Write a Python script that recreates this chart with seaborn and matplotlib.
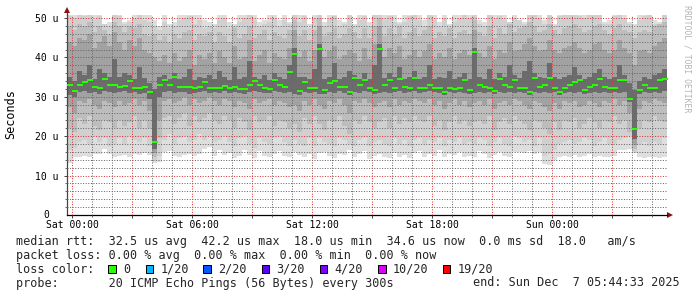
import numpy as np
import pandas as pd
import matplotlib
matplotlib.use("Agg")
import matplotlib.pyplot as plt
from matplotlib.path import Path
from matplotlib.markers import MarkerStyle
from matplotlib.patches import Rectangle
import seaborn as sns

# ---------------- data ----------------
# time axis: hours relative to Sat 00:00, one value per 15 minutes
start_hours = -(15 + 27 / 60) / 60      # Fri 23:44:33
step_hours = 0.25
span_hours = 30

tick_hours = [0, 6, 12, 18, 24]
tick_labels = ["Sat 00:00", "Sat 06:00", "Sat 12:00", "Sat 18:00", "Sun 00:00"]
ytick_values = [10, 20, 30, 40, 50]
ytick_labels = ["10 u", "20 u", "30 u", "40 u", "50 u"]

# median rtt (microseconds)
median = [
    33.0, 31.5, 33.0, 33.8, 34.2, 32.4, 32.2, 34.5, 33.0, 33.0,
    32.6, 32.8, 33.9, 32.2, 32.2, 32.4, 31.2, 18.5, 33.0, 34.2,
    33.0, 35.0, 32.6, 32.6, 32.5, 32.2, 32.4, 33.8, 32.2, 32.2,
    32.3, 32.7, 32.2, 32.4, 32.0, 32.0, 33.0, 33.9, 33.0, 32.3,
    32.0, 34.2, 33.0, 32.6, 36.4, 40.8, 31.5, 33.8, 32.2, 32.2,
    42.1, 31.7, 33.5, 33.9, 32.6, 32.4, 31.3, 34.7, 33.0, 34.2,
    32.2, 31.7, 42.1, 33.0, 34.2, 32.2, 34.5, 32.6, 32.2, 34.7,
    32.2, 32.2, 33.0, 32.2, 32.2, 31.3, 32.2, 32.0, 32.2, 34.2,
    31.7, 41.4, 33.0, 32.6, 32.2, 31.5, 34.6, 33.0, 32.4, 34.2,
    32.2, 32.2, 31.3, 34.7, 32.6, 33.0, 34.7, 32.2, 31.3, 32.2,
    33.0, 33.8, 34.2, 31.8, 32.6, 33.0, 34.5, 32.5, 32.2, 32.2,
    34.2, 34.2, 29.4, 21.7, 31.6, 33.0, 32.2, 32.2, 34.2, 34.6,
]

# smoke bands (outer -> inner): lower and upper edge of each band
lo1 = [
    13.2, 14.8, 14.8, 15.0, 14.6, 15.6, 15.4, 16.8, 15.6, 14.8,
    14.9, 15.2, 14.8, 15.6, 15.3, 15.8, 15.2, 13.2, 13.4, 16.0,
    16.2, 15.0, 14.8, 15.2, 15.6, 14.9, 15.4, 16.8, 17.2, 15.0,
    16.4, 15.2, 15.8, 14.4, 15.0, 16.6, 15.2, 14.4, 16.2, 15.0,
    14.8, 15.6, 16.2, 15.0, 14.6, 16.0, 15.2, 14.8, 15.6, 14.2,
    15.8, 16.0, 15.0, 14.4, 15.6, 15.2, 16.4, 14.8, 15.4, 16.2,
    14.2, 15.0, 15.6, 14.6, 14.4, 15.8, 14.8, 15.2, 14.4, 15.8,
    16.2, 14.8, 15.4, 15.0, 16.4, 14.8, 15.6, 15.2, 16.0, 14.6,
    15.0, 14.8, 16.2, 15.6, 14.4, 15.2, 16.0, 15.0, 14.6, 16.1,
    16.1, 15.8, 16.2, 15.6, 16.0, 13.0, 12.8, 14.0, 14.8, 15.0,
    14.8, 15.2, 14.6, 15.0, 15.4, 14.8, 15.0, 14.6, 14.8, 15.0,
    16.4, 16.6, 16.8, 15.8, 14.6, 14.4, 14.8, 14.6, 14.5, 14.8,
]
hi1 = [
    52, 52, 52, 52, 52, 52, 52, 48.5, 49.0, 52,
    52, 49.0, 49.5, 52, 52, 52, 52, 49.5, 48.0, 52,
    48.5, 49.0, 52, 52, 52, 52, 52, 49.5, 49.0, 48.5,
    52, 52, 49.0, 48.5, 52, 52, 52, 52, 49.0, 49.5,
    52, 52, 49.5, 52, 49.0, 52, 52, 52, 48.5, 52,
    52, 49.0, 52, 52, 49.5, 49.0, 52, 48.5, 52, 52,
    49.0, 52, 52, 52, 52, 52, 49.0, 52, 52, 52,
    52, 49.5, 52, 52, 49.0, 52, 48.5, 52, 52, 52,
    52, 52, 49.5, 49.0, 52, 52, 52, 52, 49.0, 52,
    49.5, 49.0, 52, 52, 52, 49.5, 52, 48.5, 52, 52,
    52, 52, 52, 52, 52, 52, 52, 49.0, 49.5, 52,
    52, 52, 49.0, 48.5, 52, 52, 52, 49.5, 49.0, 52,
]
lo2 = [
    16.5, 17.0, 18.5, 19.0, 18.0, 20.0, 18.5, 19.5, 17.5, 18.0,
    19.5, 18.0, 20.0, 19.0, 18.5, 19.5, 17.5, 14.0, 15.0, 19.0,
    20.5, 18.0, 19.5, 20.0, 18.5, 19.0, 20.5, 19.0, 20.0, 18.5,
    19.0, 20.0, 18.5, 17.5, 19.5, 20.0, 18.0, 17.0, 19.5, 18.5,
    18.0, 19.5, 20.0, 18.5, 17.5, 19.0, 18.0, 17.5, 19.5, 17.5,
    19.5, 18.5, 18.0, 17.5, 19.5, 19.0, 18.0, 17.5, 19.0, 19.5,
    17.5, 18.5, 19.0, 18.0, 17.5, 19.5, 18.0, 19.0, 17.5, 19.0,
    19.5, 18.0, 19.0, 18.5, 19.5, 17.5, 19.0, 18.5, 19.5, 18.0,
    18.5, 18.0, 19.5, 19.0, 17.5, 18.5, 19.5, 18.0, 17.5, 20.0,
    19.5, 18.5, 19.0, 17.5, 19.5, 15.0, 15.5, 16.5, 18.0, 18.5,
    19.0, 18.0, 18.5, 19.5, 19.0, 17.5, 18.5, 19.5, 18.0, 18.0,
    19.0, 19.5, 20.0, 16.0, 18.0, 18.5, 17.5, 18.5, 18.0, 19.5,
]
hi2 = [
    50.5, 50.0, 51.0, 50.5, 52.0, 49.5, 50.5, 48.5, 48.0, 51.0,
    50.5, 48.5, 49.0, 50.0, 51.0, 49.5, 49.0, 48.0, 47.0, 49.0,
    47.5, 48.0, 49.5, 50.0, 50.5, 48.5, 49.5, 47.5, 48.0, 47.5,
    49.5, 50.0, 47.5, 48.0, 49.0, 50.0, 51.0, 49.5, 48.0, 48.5,
    49.0, 50.0, 48.0, 49.5, 48.5, 51.5, 49.0, 50.5, 47.5, 50.0,
    52.0, 48.0, 50.0, 50.5, 48.0, 48.5, 51.0, 48.0, 49.5, 50.5,
    48.0, 51.0, 52.0, 49.5, 50.5, 49.0, 48.5, 49.0, 50.5, 51.0,
    49.5, 48.0, 51.0, 49.5, 48.0, 50.0, 48.0, 49.0, 50.0, 51.0,
    50.0, 51.5, 48.5, 48.0, 51.0, 49.5, 50.5, 49.5, 49.0, 50.0,
    49.5, 48.5, 51.5, 51.0, 50.0, 48.5, 51.0, 48.0, 50.5, 51.0,
    51.0, 51.5, 50.5, 50.0, 51.0, 51.5, 51.0, 48.5, 48.5, 50.5,
    51.0, 50.0, 48.5, 47.5, 49.5, 50.5, 51.0, 48.5, 48.5, 51.5,
]
lo3 = [
    22.0, 21.0, 24.5, 23.0, 25.0, 22.5, 21.5, 24.0, 23.5, 22.0,
    24.0, 22.5, 23.5, 25.0, 22.0, 24.0, 22.0, 14.8, 19.5, 24.5,
    25.0, 23.0, 24.5, 26.0, 22.5, 25.0, 23.5, 24.5, 26.0, 24.0,
    23.0, 25.0, 24.0, 22.0, 24.5, 23.5, 21.5, 25.0, 23.5, 24.0,
    25.0, 22.5, 24.0, 23.5, 22.0, 23.0, 21.0, 24.5, 23.0, 25.0,
    23.0, 21.5, 24.0, 23.5, 25.0, 22.5, 20.5, 24.0, 23.0, 25.0,
    23.5, 22.0, 23.5, 24.5, 22.0, 25.0, 23.0, 24.5, 23.5, 25.0,
    24.0, 23.5, 25.0, 22.5, 24.0, 21.5, 23.5, 25.0, 23.0, 24.0,
    22.5, 23.5, 24.0, 23.0, 25.0, 21.5, 23.5, 24.5, 23.0, 25.0,
    24.0, 23.0, 21.5, 24.0, 23.5, 22.0, 20.5, 23.5, 21.5, 24.0,
    23.5, 24.5, 22.0, 23.0, 24.5, 23.5, 22.0, 24.0, 23.5, 25.0,
    23.0, 24.0, 21.0, 16.8, 22.0, 24.0, 23.5, 25.0, 24.0, 23.5,
]
hi3 = [
    48.0, 47.0, 48.5, 48.0, 49.0, 46.5, 48.0, 47.0, 46.0, 49.0,
    48.0, 46.5, 48.0, 47.5, 48.5, 46.0, 45.5, 46.0, 44.5, 45.5,
    44.0, 46.0, 45.0, 46.5, 47.0, 44.5, 46.0, 45.5, 46.5, 44.0,
    46.5, 45.5, 44.0, 47.5, 45.0, 46.0, 48.0, 45.0, 46.0, 47.0,
    44.5, 46.5, 45.5, 45.0, 47.0, 49.5, 45.5, 47.0, 44.5, 47.0,
    50.0, 45.5, 46.5, 47.5, 45.0, 46.0, 47.5, 46.5, 45.0, 47.5,
    45.0, 48.0, 50.0, 45.5, 47.5, 46.0, 48.0, 45.0, 46.5, 47.5,
    45.5, 47.0, 48.0, 45.0, 46.5, 45.5, 47.5, 45.0, 46.5, 47.0,
    46.0, 49.5, 46.5, 45.5, 48.0, 45.0, 47.5, 46.0, 48.5, 46.5,
    47.5, 48.0, 49.0, 48.0, 46.5, 47.0, 48.5, 47.0, 46.0, 47.5,
    48.0, 48.5, 47.5, 46.5, 47.0, 48.0, 48.5, 47.0, 46.0, 47.5,
    48.5, 47.0, 46.5, 45.0, 46.5, 47.0, 46.5, 48.0, 48.5, 49.0,
]
lo4 = [
    27.5, 26.0, 29.0, 28.5, 29.5, 28.0, 27.0, 29.0, 28.5, 27.5,
    29.0, 28.0, 28.5, 29.5, 28.0, 29.0, 26.5, 15.8, 24.0, 29.0,
    29.5, 28.5, 29.0, 30.0, 28.0, 29.5, 28.5, 29.0, 30.0, 29.0,
    28.0, 29.5, 29.0, 27.5, 29.0, 28.5, 27.0, 29.5, 28.5, 29.0,
    29.5, 28.0, 29.0, 28.5, 27.5, 28.0, 26.5, 29.0, 28.0, 29.5,
    28.0, 27.0, 29.0, 28.5, 29.5, 28.0, 26.0, 29.0, 28.5, 29.5,
    28.5, 27.5, 28.5, 29.0, 27.5, 29.5, 28.0, 29.0, 28.5, 29.5,
    29.0, 28.5, 29.5, 28.0, 29.0, 27.0, 28.5, 29.5, 28.0, 29.0,
    27.5, 28.5, 29.0, 28.0, 29.5, 27.0, 28.5, 29.0, 28.0, 29.5,
    29.0, 28.0, 27.0, 29.0, 28.5, 27.5, 26.5, 28.5, 27.0, 29.0,
    28.5, 29.0, 27.5, 28.0, 29.0, 28.5, 27.5, 29.0, 28.5, 29.5,
    28.0, 29.0, 26.0, 17.8, 27.0, 29.0, 28.5, 29.5, 29.0, 28.5,
]
hi4 = [
    44.0, 43.0, 45.0, 44.5, 46.0, 42.5, 44.0, 45.5, 43.0, 46.5,
    44.0, 42.0, 44.5, 43.0, 45.0, 42.0, 41.0, 40.0, 39.0, 40.5,
    38.5, 41.0, 39.0, 40.0, 42.0, 38.0, 40.5, 39.5, 41.0, 38.5,
    41.5, 40.0, 38.5, 43.0, 39.5, 40.0, 44.5, 39.0, 40.5, 42.0,
    38.5, 41.0, 40.0, 39.5, 42.5, 47.0, 40.0, 41.5, 39.0, 42.0,
    48.0, 40.0, 41.5, 43.0, 39.5, 40.5, 42.0, 41.0, 39.0, 42.5,
    39.5, 43.5, 48.0, 40.0, 42.5, 41.0, 43.0, 39.5, 40.5, 42.0,
    40.0, 41.5, 43.5, 39.5, 41.0, 40.0, 42.5, 39.5, 41.0, 42.0,
    40.5, 47.0, 41.0, 40.0, 43.0, 39.5, 42.0, 41.0, 44.0, 41.5,
    42.0, 43.5, 45.0, 43.0, 41.5, 42.0, 44.5, 42.0, 41.0, 42.5,
    43.0, 44.0, 42.5, 41.0, 42.0, 43.5, 44.0, 42.0, 41.0, 42.0,
    44.5, 42.5, 41.0, 38.0, 41.5, 42.0, 41.0, 43.0, 44.0, 45.0,
]
lo5 = [
    30.5, 30.0, 31.2, 31.4, 31.0, 31.2, 30.8, 31.4, 31.2, 31.0,
    31.2, 31.4, 31.0, 31.2, 30.8, 31.0, 29.5, 16.8, 30.0, 31.2,
    31.4, 31.0, 31.2, 31.2, 30.8, 31.0, 31.2, 31.4, 31.0, 31.2,
    31.0, 31.4, 31.0, 31.2, 31.0, 30.6, 31.2, 31.4, 31.2, 31.0,
    31.0, 31.4, 31.2, 31.0, 31.2, 30.8, 30.4, 31.2, 31.0, 31.2,
    30.8, 30.6, 31.2, 31.0, 31.4, 31.0, 30.4, 31.2, 31.0, 31.4,
    31.2, 30.6, 31.0, 31.2, 31.0, 31.2, 31.4, 31.0, 31.2, 31.4,
    31.0, 31.2, 31.4, 31.2, 31.0, 30.4, 31.2, 31.0, 31.2, 31.0,
    30.6, 31.0, 31.2, 31.0, 31.2, 30.6, 31.2, 31.0, 31.2, 31.0,
    31.2, 31.0, 30.4, 31.2, 31.0, 31.2, 31.0, 31.2, 30.4, 31.0,
    31.2, 31.0, 31.2, 30.8, 31.0, 31.2, 31.0, 31.2, 31.0, 31.2,
    31.0, 31.2, 28.6, 19.2, 30.8, 31.2, 31.0, 31.2, 31.0, 31.4,
]
hi5 = [
    35.0, 34.0, 36.5, 35.5, 38.0, 34.5, 37.0, 36.0, 35.0, 39.5,
    35.0, 36.0, 35.5, 34.5, 37.5, 34.8, 33.5, 32.0, 35.0, 35.5,
    34.5, 36.0, 34.5, 35.0, 37.0, 34.2, 35.0, 34.8, 35.5, 34.5,
    36.5, 35.0, 34.2, 37.5, 34.5, 35.0, 39.0, 35.0, 34.5, 35.5,
    34.2, 36.0, 35.0, 34.5, 38.0, 42.5, 35.0, 35.0, 34.5, 37.0,
    43.5, 34.5, 35.0, 38.5, 34.5, 35.0, 36.5, 35.5, 34.5, 36.0,
    34.5, 38.0, 43.5, 34.8, 36.0, 35.0, 37.5, 34.5, 35.0, 36.5,
    34.5, 35.0, 38.0, 34.5, 35.0, 34.8, 36.5, 34.5, 35.0, 36.0,
    34.5, 42.5, 35.0, 34.5, 37.0, 34.5, 36.0, 35.0, 38.0, 35.5,
    34.8, 36.5, 39.0, 36.0, 35.0, 34.8, 38.5, 35.0, 34.5, 35.0,
    35.5, 37.5, 35.5, 34.5, 35.0, 36.0, 37.0, 35.0, 34.5, 35.0,
    38.0, 35.5, 33.5, 31.8, 34.0, 35.0, 34.5, 35.5, 36.0, 37.0,
]

loss_labels = ["0", "1/20", "2/20", "3/20", "4/20", "10/20", "19/20"]
loss_colors = ["#26ff00", "#00b8ff", "#0059ff", "#5e00ff", "#7e00ff", "#dd00ff", "#ff0000"]

median_line = "median rtt:  32.5 us avg  42.2 us max  18.0 us min  34.6 us now  0.0 ms sd  18.0   am/s"
loss_line = "packet loss: 0.00 % avg  0.00 % max  0.00 % min  0.00 % now"
probe_line = "probe:       20 ICMP Echo Pings (56 Bytes) every 300s"
end_line = "end: Sun Dec  7 05:44:33 2025"

# ---------------- styling ----------------
sns.set_theme(style="white")
plt.rcParams["font.family"] = ["DejaVu Sans Mono"]

W, H = 697, 297
fig = plt.figure(figsize=(W / 100, H / 100), dpi=100, facecolor="white")
ax = fig.add_axes([67 / W, (H - 215) / H, 600 / W, 200 / H])
ax.set_facecolor("white")

n = len(median)
x_edges = start_hours + step_hours * np.arange(n + 1)
centers = x_edges[:-1] + step_hours / 2


def ext(a):
    a = np.asarray(a, float)
    return np.append(a, a[-1])


band_colors = ["#dedede", "#d0d0d0", "#bdbdbd", "#a2a2a2", "#6c6c6c"]
bands = [(lo1, hi1), (lo2, hi2), (lo3, hi3), (lo4, hi4), (lo5, hi5)]
for k, ((lo, hi), c) in enumerate(zip(bands, band_colors)):
    ax.fill_between(x_edges, ext(lo), ext(hi), step="post", color=c,
                    linewidth=0, antialiased=False, zorder=1 + 0.1 * k)

# median drawn as short flat green bars
rect = MarkerStyle(Path([(-1, -0.5), (1, -0.5), (1, 0.5), (-1, 0.5), (-1, -0.5)],
                        [Path.MOVETO, Path.LINETO, Path.LINETO, Path.LINETO, Path.CLOSEPOLY]))
df = pd.DataFrame({"t": centers, "median": median})
sns.scatterplot(data=df, x="t", y="median", marker=rect, s=13.5, color=loss_colors[0],
                linewidth=0, ax=ax, zorder=5, legend=False)

ax.set_xlim(start_hours, start_hours + span_hours)
ax.set_ylim(0, 50.76)

major_x = np.arange(0, 30, 3)
ax.set_xticks(major_x)
lab = dict(zip(tick_hours, tick_labels))
ax.set_xticklabels([lab.get(int(h), "") for h in major_x])
ax.set_xticks(np.arange(0, 30, 1), minor=True)
ax.set_yticks(ytick_values)
ax.set_yticklabels(ytick_labels)
ax.set_yticks(np.arange(2, 50.1, 2), minor=True)
ax.set_xlabel("")
ax.set_ylabel("")

dot = (0, (1, 1.6))
ax.grid(which="major", color=(0.85, 0.2, 0.2, 0.30), linestyle=dot, linewidth=0.72)
ax.grid(which="minor", color=(0.4, 0.4, 0.4, 0.16), linestyle=dot, linewidth=0.72)
ax.set_axisbelow(False)

ax.tick_params(axis="both", which="major", length=2, width=0.72, color="#444444",
               labelsize=7, labelcolor="#000000")
ax.tick_params(axis="y", which="major", pad=4.3)
ax.tick_params(axis="x", which="major", pad=1.5)
ax.tick_params(axis="both", which="minor", length=1.2, width=0.72, color="#666666")
ax.tick_params(bottom=True, left=True, which="both")

for side in ["top", "right"]:
    ax.spines[side].set_visible(False)
ax.spines["left"].set_color("#444444")
ax.spines["bottom"].set_color("#000000")
ax.spines["left"].set_linewidth(0.9)
ax.spines["bottom"].set_linewidth(0.9)

# "0" label of the y axis
ax.text(-18 / 600, 0, "0", transform=ax.get_yaxis_transform(), ha="right", va="center",
        fontsize=7, color="#000000")

# axis arrows
ax.plot([0, 0], [1, 1.02], transform=ax.transAxes, color="#444444", lw=0.9, clip_on=False)
ax.plot([0], [1.0225], marker="^", ms=3.8, color="#8b1010", transform=ax.transAxes,
        clip_on=False, mew=0)
ax.plot([1, 1.004], [0, 0], transform=ax.transAxes, color="#000000", lw=0.9, clip_on=False)
ax.plot([1.0058], [0], marker=">", ms=3.8, color="#8b1010", transform=ax.transAxes,
        clip_on=False, mew=0)

# labels around the plot
fig.text(11 / W, 1 - 114.5 / H, "Seconds", rotation=90, ha="center", va="center",
         fontsize=8.5, color="#000000")
fig.text(687.5 / W, 1 - 5 / H, "RRDTOOL / TOBI OETIKER", rotation=270, ha="center",
         va="top", fontsize=5.9, color="#b4b4b4")

# legend block
fs = 8.5
fig.text(16 / W, 1 - 245 / H, median_line, fontsize=fs, va="baseline", ha="left")
fig.text(16 / W, 1 - 258.7 / H, loss_line, fontsize=fs, va="baseline", ha="left")
fig.text(16 / W, 1 - 272.6 / H, "loss color:", fontsize=fs, va="baseline", ha="left")
fig.text(16 / W, 1 - 286.5 / H, probe_line, fontsize=fs, va="baseline", ha="left")
fig.text(680 / W, 1 - 286.5 / H, end_line, fontsize=fs, va="baseline", ha="right")

box_x = [108.3, 145.7, 203.3, 261.5, 319.7, 377.9, 442.7]
for bx, lbl, col in zip(box_x, loss_labels, loss_colors):
    fig.patches.append(Rectangle((bx / W, 1 - 273.3 / H), 7.7 / W, 8 / H,
                                 transform=fig.transFigure, facecolor=col,
                                 edgecolor="#000000", linewidth=0.72))
    fig.text((bx + 15) / W, 1 - 272.6 / H, lbl, fontsize=fs, va="baseline", ha="left")

fig.savefig("out.png", dpi=100, facecolor="white")
